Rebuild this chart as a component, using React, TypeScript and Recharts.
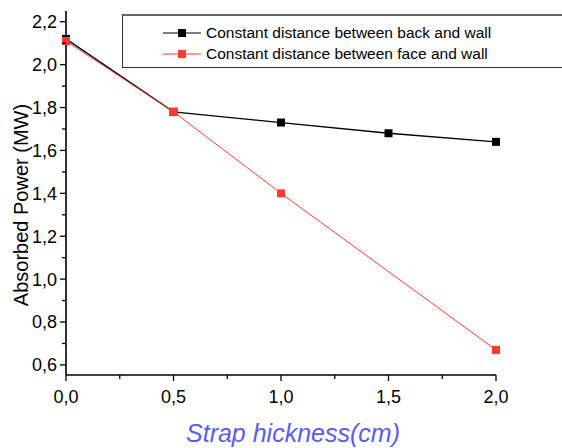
import { LineChart, Line, XAxis, YAxis, Label } from 'recharts'

const X_VALUES = [0, 0.5, 1.0, 1.5, 2.0]
const BACK_WALL = [2.12, 1.78, 1.73, 1.68, 1.64]
const FACE_WALL = [2.11, 1.78, 1.4, null, 0.67]
const X_TICKS = [0, 0.25, 0.5, 0.75, 1, 1.25, 1.5, 1.75, 2]
const Y_TICKS = [0.6, 0.7, 0.8, 0.9, 1.0, 1.1, 1.2, 1.3, 1.4, 1.5, 1.6, 1.7, 1.8, 1.9, 2.0, 2.1, 2.2]
const SERIES_NAMES = [
  'Constant distance between back and wall',
  'Constant distance between face and wall',
]
const COLORS = ['#000000', '#ff3b2f']

const data = X_VALUES.map((x, i) => ({ x, back: BACK_WALL[i], face: FACE_WALL[i] }))

const FONT = '"Liberation Sans", Arial, sans-serif'

const fmt = (v: number) => v.toFixed(1).replace('.', ',')

function SquareDot(props: any) {
  const { cx, cy, stroke, index } = props
  if (cx == null || cy == null) return <g key={index} />
  return <rect key={index} x={cx - 4} y={cy - 4} width={8} height={8} fill={stroke} />
}

function XTick(props: any) {
  const { x, y, payload } = props
  const major = Math.round(payload.value * 100) % 50 === 0
  const axisY = y - 15
  return (
    <g>
      <line x1={x} x2={x} y1={axisY} y2={axisY + (major ? 6 : 4)} stroke="#000" strokeWidth={1.3} />
      {major && (
        <text x={x} y={y} dy="0.71em" textAnchor="middle" fontSize={18} fontFamily={FONT} fill="#000">
          {fmt(payload.value)}
        </text>
      )}
    </g>
  )
}

function YTick(props: any) {
  const { x, y, payload } = props
  const major = Math.round(payload.value * 10) % 2 === 0
  const axisX = x + 9
  return (
    <g>
      <line x1={axisX} x2={axisX - (major ? 6 : 4)} y1={y} y2={y} stroke="#000" strokeWidth={1.3} />
      {major && (
        <text x={x} y={y} dy="0.355em" textAnchor="end" fontSize={18} fontFamily={FONT} fill="#000">
          {fmt(payload.value)}
        </text>
      )}
    </g>
  )
}

// legend box runs off the right edge in the original
function LegendBox() {
  return (
    <div
      style={{
        position: 'absolute',
        left: 122,
        top: 14,
        width: 500,
        height: 54,
        border: '1px solid #333',
        borderTop: '2px solid #666',
        boxSizing: 'border-box',
        fontFamily: FONT,
        fontSize: 15.5,
        background: '#fff',
      }}
    >
      {SERIES_NAMES.map((name, i) => (
        <div
          key={name}
          style={{ position: 'absolute', left: 38, top: 7 + i * 21, height: 20, display: 'flex', alignItems: 'center' }}
        >
          <svg width={42} height={20}>
            <line x1={2} x2={40} y1={10} y2={10} stroke={COLORS[i]} strokeWidth={1.2} />
            <rect x={17} y={6} width={8} height={8} fill={COLORS[i]} />
          </svg>
          <span style={{ marginLeft: 3, whiteSpace: 'nowrap', color: '#000' }}>{name}</span>
        </div>
      ))}
    </div>
  )
}

export default function App() {
  return (
    <div
      style={{
        position: 'fixed',
        left: 0,
        top: 0,
        width: 562,
        height: 448,
        overflow: 'hidden',
        background: '#fff',
        fontFamily: FONT,
      }}
    >
      <LineChart width={562} height={448} data={data} margin={{ top: 11, right: 66, bottom: 0, left: 0 }}>
        <XAxis
          dataKey="x"
          type="number"
          domain={[0, 2]}
          ticks={X_TICKS}
          tick={<XTick />}
          tickLine={false}
          tickSize={5}
          tickMargin={10}
          height={73}
          axisLine={{ stroke: '#000', strokeWidth: 1.6 }}
          interval={0}
        >
          <Label
            content={(p: any) => {
              const vb = p.viewBox
              return (
                <text
                  x={vb.x + vb.width / 2 + 12}
                  y={vb.y + 67}
                  textAnchor="middle"
                  fontSize={25}
                  fontStyle="italic"
                  fontFamily={FONT}
                  fill="#5b5bef"
                >
                  Strap hickness(cm)
                </text>
              )
            }}
          />
        </XAxis>
        <YAxis
          type="number"
          domain={[0.553, 2.25]}
          allowDataOverflow
          ticks={Y_TICKS}
          tick={<YTick />}
          tickLine={false}
          tickSize={5}
          tickMargin={4}
          width={66}
          axisLine={{ stroke: '#000', strokeWidth: 1.6 }}
          interval={0}
        >
          <Label
            content={(p: any) => {
              const vb = p.viewBox
              const cx = vb.x + 21
              const cy = vb.y + vb.height / 2 + 12
              return (
                <text
                  x={cx}
                  y={cy}
                  transform={`rotate(-90 ${cx} ${cy})`}
                  textAnchor="middle"
                  dominantBaseline="central"
                  fontSize={20}
                  fontFamily={FONT}
                  fill="#000"
                >
                  Absorbed Power (MW)
                </text>
              )
            }}
          />
        </YAxis>
        <Line
          dataKey="back"
          name={SERIES_NAMES[0]}
          stroke={COLORS[0]}
          strokeWidth={1.3}
          dot={<SquareDot />}
          activeDot={false}
          isAnimationActive={false}
        />
        <Line
          dataKey="face"
          name={SERIES_NAMES[1]}
          stroke={COLORS[1]}
          strokeWidth={1}
          connectNulls
          dot={<SquareDot />}
          activeDot={false}
          isAnimationActive={false}
        />
      </LineChart>
      <LegendBox />
    </div>
  )
}
